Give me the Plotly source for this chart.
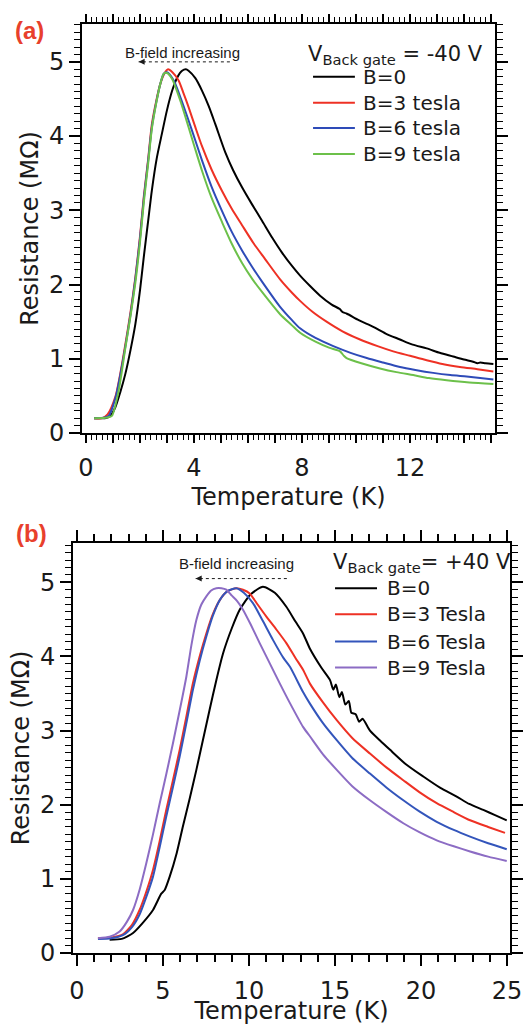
import plotly.graph_objects as go

# ---------------- data: panel (a), V_bg = -40 V ----------------
T_a0 = [0.30, 0.70, 0.90, 1.09, 1.27, 1.46, 1.65, 1.83, 2.00, 2.14, 2.30, 2.44, 2.62, 2.81, 3.00, 3.19, 3.38, 3.56, 3.70, 3.80,
        4.05, 4.30, 4.55, 4.79, 5.16, 5.45, 5.78, 6.15, 6.52, 6.90, 7.26, 7.63, 7.93, 8.30, 8.67, 9.10, 9.40, 9.50, 9.65, 10.10,
        10.64, 11.10, 11.63, 12.10, 12.62, 13.10, 13.60, 14.00, 14.34, 14.50, 14.60, 14.80, 15.09]
R_a0 = [0.20, 0.20, 0.23, 0.35, 0.55, 0.80, 1.12, 1.47, 1.92, 2.37, 2.85, 3.27, 3.70, 4.03, 4.35, 4.61, 4.79, 4.88, 4.90, 4.88,
        4.78, 4.61, 4.40, 4.16, 3.78, 3.54, 3.31, 3.08, 2.86, 2.63, 2.43, 2.25, 2.12, 1.98, 1.85, 1.73, 1.67, 1.63, 1.61, 1.52,
        1.43, 1.34, 1.26, 1.19, 1.14, 1.08, 1.03, 0.99, 0.96, 0.94, 0.95, 0.94, 0.93]

T_a3 = [0.30, 0.60, 0.80, 1.09, 1.27, 1.46, 1.65, 1.83, 2.00, 2.14, 2.30, 2.44, 2.60, 2.75, 2.90, 3.04, 3.20, 3.43, 3.60, 3.80,
        4.05, 4.30, 4.65, 5.04, 5.40, 5.78, 6.20, 6.64, 7.19, 7.63, 7.93, 8.40, 8.91, 9.50, 10.15, 10.80, 11.38, 12.00, 12.62,
        13.20, 13.85, 14.50, 15.09]
R_a3 = [0.20, 0.20, 0.25, 0.49, 0.80, 1.20, 1.63, 2.10, 2.65, 3.18, 3.68, 4.16, 4.47, 4.70, 4.84, 4.90, 4.86, 4.75, 4.59, 4.39,
        4.12, 3.86, 3.55, 3.26, 3.02, 2.80, 2.56, 2.34, 2.07, 1.89, 1.78, 1.63, 1.50, 1.37, 1.26, 1.17, 1.10, 1.04, 0.98,
        0.93, 0.89, 0.86, 0.83]

T_a6 = [0.30, 0.70, 0.84, 1.09, 1.27, 1.46, 1.65, 1.83, 2.00, 2.14, 2.30, 2.44, 2.60, 2.75, 2.88, 3.00, 3.25, 3.50, 3.80, 4.05,
        4.30, 4.65, 5.04, 5.40, 5.78, 6.15, 6.52, 7.19, 7.63, 7.93, 8.50, 9.16, 9.80, 10.40, 11.00, 11.63, 12.20, 12.86, 13.50,
        14.10, 14.60, 15.09]
R_a6 = [0.20, 0.21, 0.23, 0.47, 0.78, 1.17, 1.60, 2.08, 2.62, 3.15, 3.66, 4.12, 4.45, 4.70, 4.84, 4.86, 4.75, 4.52, 4.21, 3.94,
        3.67, 3.32, 2.99, 2.71, 2.46, 2.24, 2.04, 1.70, 1.52, 1.41, 1.28, 1.17, 1.08, 1.01, 0.95, 0.89, 0.85, 0.81, 0.78,
        0.76, 0.74, 0.72]

T_a9 = [0.30, 0.80, 0.96, 1.21, 1.46, 1.65, 1.83, 2.00, 2.14, 2.30, 2.44, 2.60, 2.75, 2.88, 3.00, 3.19, 3.50, 3.80, 4.05, 4.30,
        4.65, 5.04, 5.40, 5.78, 6.15, 6.52, 7.19, 7.63, 7.93, 8.50, 9.00, 9.41, 9.55, 9.65, 10.20, 10.89, 11.50, 12.12, 12.70,
        13.36, 14.20, 15.09]
R_a9 = [0.20, 0.21, 0.23, 0.57, 1.15, 1.58, 2.03, 2.57, 3.10, 3.62, 4.10, 4.44, 4.70, 4.84, 4.85, 4.77, 4.47, 4.12, 3.82, 3.53,
        3.17, 2.84, 2.55, 2.29, 2.08, 1.90, 1.60, 1.45, 1.35, 1.23, 1.15, 1.10, 1.04, 1.01, 0.94, 0.87, 0.82, 0.78, 0.74,
        0.71, 0.68, 0.66]

# ---------------- data: panel (b), V_bg = +40 V ----------------
T_b0 = [1.90, 2.60, 3.26, 3.80, 4.42, 4.90, 5.10, 5.39, 5.80, 6.16, 6.55, 6.94, 7.30, 7.71, 8.10, 8.49, 9.00, 9.46, 10.10, 10.81,
        11.50, 12.17, 12.70, 13.14, 13.55, 14.20, 14.71, 14.90, 15.05, 15.25, 15.40, 15.60, 15.80, 15.95, 16.20, 16.40, 16.60,
        17.03, 17.60, 18.20, 19.10, 20.13, 21.10, 22.07, 22.80, 23.62, 24.30, 24.98]
R_b0 = [0.18, 0.19, 0.27, 0.40, 0.58, 0.80, 0.85, 1.03, 1.35, 1.71, 2.08, 2.47, 2.85, 3.28, 3.68, 4.04, 4.38, 4.63, 4.84, 4.94,
        4.86, 4.67, 4.47, 4.31, 4.10, 3.85, 3.68, 3.55, 3.62, 3.45, 3.52, 3.35, 3.40, 3.24, 3.22, 3.12, 3.16,
        3.00, 2.87, 2.74, 2.55, 2.38, 2.23, 2.11, 2.01, 1.93, 1.86, 1.79]

T_b3 = [1.22, 2.00, 2.67, 3.20, 3.64, 4.02, 4.42, 4.80, 5.19, 5.58, 5.97, 6.36, 6.74, 7.13, 7.52, 7.90, 8.30, 8.75, 9.26, 9.65,
        10.04, 10.50, 11.00, 11.60, 12.17, 12.70, 13.14, 13.55, 14.30, 15.10, 16.00, 17.03, 18.00, 18.97, 19.90, 20.91, 21.90,
        22.85, 23.90, 24.88]
R_b3 = [0.20, 0.21, 0.25, 0.38, 0.58, 0.82, 1.12, 1.50, 1.93, 2.33, 2.74, 3.19, 3.64, 4.00, 4.31, 4.57, 4.76, 4.88, 4.92, 4.90,
        4.85, 4.70, 4.54, 4.36, 4.18, 3.98, 3.82, 3.63, 3.38, 3.14, 2.90, 2.69, 2.50, 2.33, 2.17, 2.02, 1.90,
        1.79, 1.70, 1.62]

T_b6 = [1.22, 2.00, 2.67, 3.20, 3.64, 4.02, 4.42, 4.80, 5.19, 5.58, 5.97, 6.36, 6.74, 7.13, 7.52, 7.90, 8.30, 8.75, 9.26, 9.70,
        10.23, 10.80, 11.40, 12.00, 12.38, 13.14, 13.55, 14.30, 15.10, 16.00, 17.03, 18.00, 18.97, 19.90, 20.91, 21.90, 22.85,
        23.90, 24.98]
R_b6 = [0.19, 0.20, 0.24, 0.35, 0.52, 0.75, 1.03, 1.42, 1.84, 2.24, 2.65, 3.10, 3.55, 3.94, 4.27, 4.55, 4.76, 4.88, 4.92, 4.86,
        4.72, 4.48, 4.22, 3.98, 3.86, 3.52, 3.36, 3.10, 2.87, 2.63, 2.42, 2.23, 2.06, 1.91, 1.77, 1.66, 1.57,
        1.48, 1.40]

T_b9 = [1.22, 1.90, 2.48, 2.90, 3.26, 3.65, 4.03, 4.42, 4.81, 5.20, 5.58, 5.97, 6.36, 6.65, 6.94, 7.23, 7.52, 7.80, 8.10, 8.40,
        8.68, 9.00, 9.30, 9.65, 10.10, 10.62, 11.20, 11.78, 12.38, 13.14, 13.55, 14.30, 15.10, 16.00, 17.03, 18.00, 18.97,
        19.90, 20.91, 21.90, 22.85, 23.90, 24.98]
R_b9 = [0.20, 0.22, 0.29, 0.42, 0.58, 0.86, 1.21, 1.60, 2.02, 2.42, 2.83, 3.27, 3.73, 4.15, 4.49, 4.70, 4.81, 4.89, 4.92, 4.92,
        4.90, 4.82, 4.75, 4.63, 4.43, 4.18, 3.91, 3.64, 3.37, 3.05, 2.92, 2.68, 2.47, 2.25, 2.06, 1.90, 1.75,
        1.63, 1.52, 1.44, 1.37, 1.30, 1.24]

names_a = ["B=0", "B=3 tesla", "B=6 tesla", "B=9 tesla"]
names_b = ["B=0", "B=3 Tesla", "B=6 Tesla", "B=9 Tesla"]
colors_a = ["#000000", "#ee3124", "#2e4bb8", "#6cc04a"]
colors_b = ["#000000", "#ee3124", "#3355bb", "#8c6cc4"]

x_ticks_a = list(range(0, 16))
x_labels_a = [str(v) if v % 4 == 0 else "" for v in x_ticks_a]
x_ticks_b = [0, 5, 10, 15, 20, 25]
y_ticks = [0, 1, 2, 3, 4, 5]

W, H = 523, 1025
FONT = "DejaVu Sans"

fig = go.Figure()
series_a = [(T_a0, R_a0), (T_a3, R_a3), (T_a6, R_a6), (T_a9, R_a9)]
series_b = [(T_b0, R_b0), (T_b3, R_b3), (T_b6, R_b6), (T_b9, R_b9)]
for (t, r), n, c in zip(series_a, names_a, colors_a):
    fig.add_trace(go.Scatter(x=t, y=r, mode="lines", name=n, showlegend=False,
                             line=dict(color=c, width=2, shape="spline", smoothing=0.7),
                             xaxis="x", yaxis="y"))
for (t, r), n, c in zip(series_b, names_b, colors_b):
    fig.add_trace(go.Scatter(x=t, y=r, mode="lines", name=n, showlegend=False,
                             line=dict(color=c, width=2, shape="spline", smoothing=0.6),
                             xaxis="x2", yaxis="y2"))


def ax(**kw):
    d = dict(showline=True, linecolor="black", linewidth=2, mirror="allticks",
             ticks="outside", tickcolor="black", tickwidth=1.5, ticklen=10,
             showgrid=False, zeroline=False, automargin=False,
             tickfont=dict(family=FONT, size=24, color="#1a1a1a"),
             title_font=dict(family=FONT, size=24, color="#1a1a1a"))
    d.update(kw)
    return d


px2x = lambda p: p / W
px2y = lambda p: 1 - p / H

fig.update_layout(
    width=W, height=H, margin=dict(l=0, r=0, t=0, b=0, autoexpand=False),
    paper_bgcolor="white", plot_bgcolor="white", showlegend=False,
    xaxis=ax(domain=[px2x(82), px2x(495)], range=[-0.148, 15.15], anchor="y",
             tickmode="array", tickvals=x_ticks_a, ticktext=x_labels_a, ticklen=8, ticklabelstandoff=4,
             minor=dict(ticks="outside", dtick=0.2, tick0=0, ticklen=5, tickwidth=1.2, tickcolor="black"),
             title=dict(text="Temperature (K)", standoff=7)),
    yaxis=ax(domain=[px2y(433), px2y(24)], range=[0, 5.51], anchor="x",
             tickmode="array", tickvals=y_ticks, ticklen=11,
             minor=dict(ticks="outside", dtick=0.1, tick0=0, ticklen=6, tickwidth=1.2, tickcolor="black"),
             title=dict(text="Resistance (MΩ)", standoff=4)),
    xaxis2=ax(domain=[px2x(73), px2x(510)], range=[-0.23, 25.17], anchor="y2",
              tickmode="array", tickvals=x_ticks_b, ticklen=11, ticklabelstandoff=4,
              minor=dict(ticks="outside", dtick=1, tick0=0, ticklen=7, tickwidth=1.5, tickcolor="black"),
              title=dict(text="Temperature (K)", standoff=0)),
    yaxis2=ax(domain=[px2y(953), px2y(543)], range=[0, 5.53], anchor="x2",
              tickmode="array", tickvals=y_ticks, ticklen=11,
              minor=dict(ticks="outside", dtick=0.1, tick0=0, ticklen=6, tickwidth=1.2, tickcolor="black"),
              title=dict(text="Resistance (MΩ)", standoff=4)),
)

ann = []
shapes = []
# panel labels
ann.append(dict(text="<b>(a)</b>", xref="paper", yref="paper", x=px2x(13), y=px2y(30),
                xanchor="left", yanchor="middle", showarrow=False,
                font=dict(family="Liberation Sans", size=24, color="#e8402c")))
ann.append(dict(text="<b>(b)</b>", xref="paper", yref="paper", x=px2x(14), y=px2y(533),
                xanchor="left", yanchor="middle", showarrow=False,
                font=dict(family="Liberation Sans", size=24, color="#e8402c")))

# legends (drawn manually to match compact spacing)
def legend(xr, yr, x0, x1, xt, rows, names, colors, title_x, title_y, title, tsize):
    ann.append(dict(text=title, xref=xr, yref=yr, x=title_x, y=title_y, xanchor="left", yanchor="middle",
                    showarrow=False, font=dict(family=FONT, size=tsize, color="#1a1a1a")))
    for yv, n, c in zip(rows, names, colors):
        shapes.append(dict(type="line", xref=xr, yref=yr, x0=x0, x1=x1, y0=yv, y1=yv,
                           line=dict(color=c, width=2)))
        ann.append(dict(text=n, xref=xr, yref=yr, x=xt, y=yv, xanchor="left", yanchor="middle",
                        showarrow=False, font=dict(family=FONT, size=20, color="#1a1a1a")))

legend("x", "y", 8.41, 9.96, 10.2, [4.80, 4.45, 4.11, 3.76], names_a, colors_a,
       8.15, 5.09, "V<sub>Back gate</sub> = -40 V", 21)
legend("x2", "y2", 15.0, 17.44, 17.9, [4.92, 4.57, 4.20, 3.85], names_b, colors_b,
       14.75, 5.26, "V<sub>Back gate</sub>= +40 V", 21)

# "B-field increasing" arrows
def field_arrow(xr, yr, xtext, ytext, xs, xe, ya):
    ann.append(dict(text="B-field increasing", xref=xr, yref=yr, x=xtext, y=ytext, xanchor="center",
                    yanchor="middle", showarrow=False,
                    font=dict(family="Liberation Sans", size=15, color="#1a1a1a")))
    shapes.append(dict(type="line", xref=xr, yref=yr, x0=xs, x1=xe, y0=ya, y1=ya,
                       line=dict(color="#1a1a1a", width=1, dash="dot")))
    ann.append(dict(text="", xref=xr, yref=yr, x=xe, y=ya, ax=7, ay=0, showarrow=True,
                    arrowhead=2, arrowsize=1, arrowwidth=1.2, arrowcolor="#1a1a1a"))

field_arrow("x", "y", 3.59, 5.13, 5.33, 1.95, 5.0)
field_arrow("x2", "y2", 9.3, 5.26, 12.2, 6.9, 5.05)

fig.update_layout(annotations=ann, shapes=shapes)
fig.write_html("out.html", config={"displayModeBar": False},
               post_script="document.body.style.margin='0';document.body.style.padding='0';")
